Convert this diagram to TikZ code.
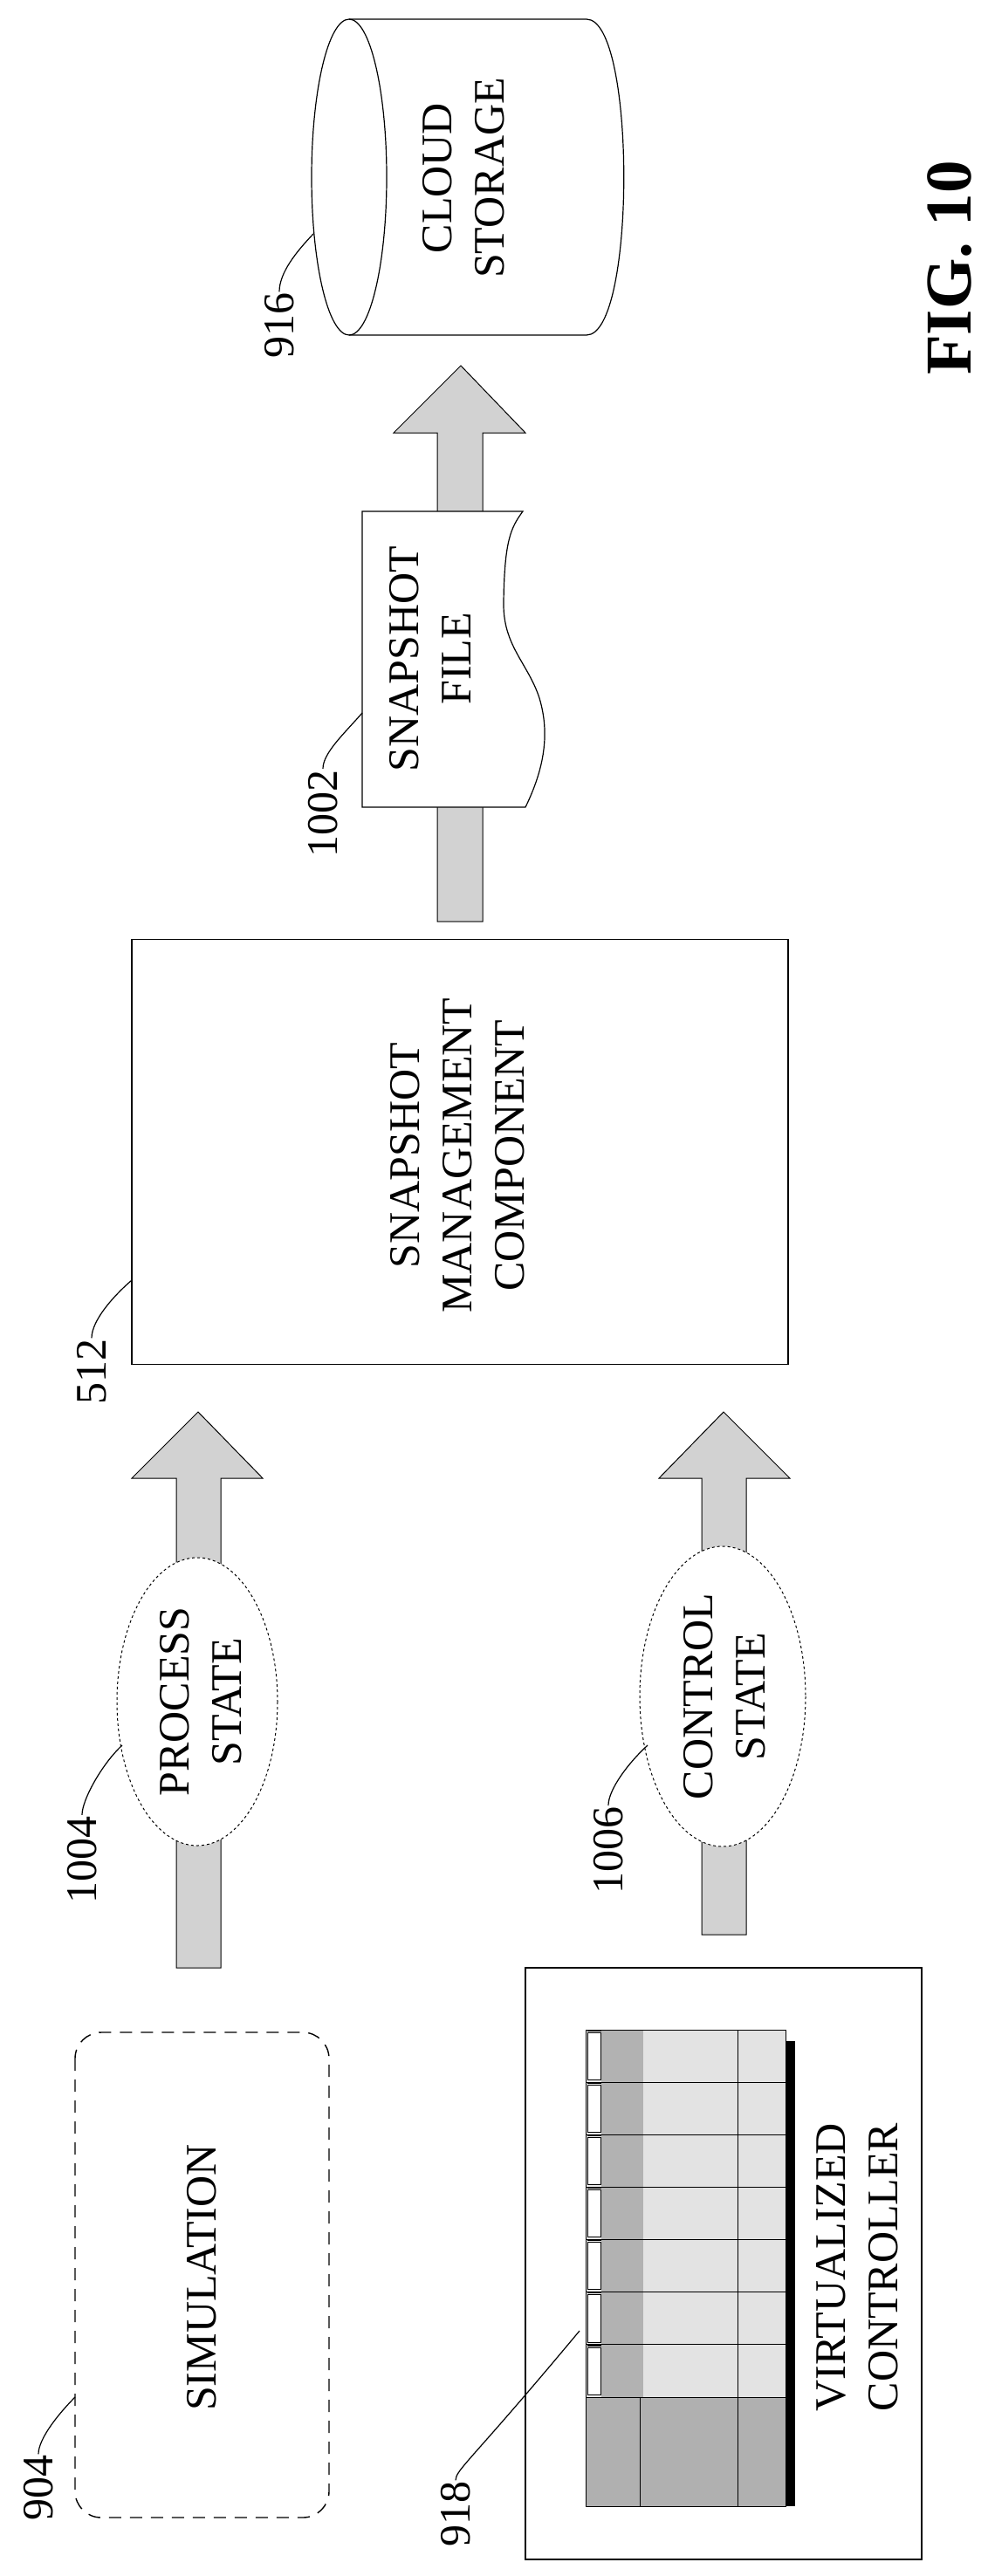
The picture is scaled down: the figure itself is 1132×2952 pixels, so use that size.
\documentclass[tikz,border=0pt]{standalone}
\usepackage{fontspec}
\setmainfont{Liberation Serif}
\begin{document}
\begin{tikzpicture}[x=1pt,y=-1pt,
  txt/.style={rotate=90,font=\fontsize{50}{60}\selectfont,align=center,inner sep=0pt},
  lbl/.style={rotate=90,font=\fontsize{50}{60}\selectfont,inner sep=1pt},
  bigarrow/.style={draw=black,line width=1pt,fill=gray!35},
  ln/.style={line width=1.2pt},
  leader/.style={line width=1.2pt}]
\useasboundingbox (0,0) rectangle (1132,2952);
% ---- Cloud storage cylinder
\draw[ln] (400,203) ellipse [x radius=43, y radius=181];
\draw[ln] (400,22) -- (672,22) .. controls (729,22) and (729,384) .. (672,384) -- (400,384);
\node[txt] (cloud) at (531,204) {CLOUD\\STORAGE};
\node[lbl] (l916) at (320,373) {916};
\coordinate (c916) at (359,268);
\draw[leader] (l916.east) .. controls +(0,-22) and (340,288) .. (c916);
% ---- FIG 10
\node[rotate=90,font=\fontsize{75}{80}\selectfont\bfseries,inner sep=0pt] (fig) at (1088,307) {FIG. 10};
% ---- arrow box -> cloud
\draw[bigarrow] (501,1056) -- (501,496) -- (451,496) -- (528,419) -- (602,496) -- (553,496) -- (553,1056) -- cycle;
% ---- snapshot file
\draw[ln,fill=white] (415,586) -- (599,586) .. controls (585,605) and (578,620) .. (577,690)
  .. controls (576,740) and (605,760) .. (618,800) .. controls (630,840) and (624,880) .. (602,925) -- (415,925) -- cycle;
\node[txt] (file) at (493,755) {SNAPSHOT\\FILE};
\node[lbl] (l1002) at (370,932) {1002};
\coordinate (c1002) at (415,817);
\draw[leader] (l1002.east) .. controls +(0,-18) and (395,840) .. (c1002);
% ---- snapshot management component
\node[draw,ln,minimum width=752,minimum height=487,inner sep=0pt] (smc) at (527,1320) {};
\node[txt] (smct) at (524,1324) {SNAPSHOT\\MANAGEMENT\\COMPONENT};
\node[lbl] (l512) at (105,1572) {512};
\coordinate (c512) at (151,1467);
\draw[leader] (l512.east) .. controls +(0,-20) and (130,1485) .. (c512);
% ---- process state
\draw[bigarrow] (202,2255) -- (202,1694) -- (151,1694) -- (227,1618) -- (301,1694) -- (253,1694) -- (253,2255) -- cycle;
\draw[dashed,line width=1pt,fill=white] (226,1950) ellipse [x radius=92, y radius=165];
\node[txt] (ps) at (230,1950) {PROCESS\\STATE};
\node[lbl] (l1004) at (94,2131) {1004};
\coordinate (c1004) at (140,2000);
\draw[leader] (l1004.east) .. controls +(0,-18) and (118,2020) .. (c1004);
% ---- control state
\draw[bigarrow] (804,2217) -- (804,1694) -- (755,1694) -- (829,1618) -- (905,1694) -- (855,1694) -- (855,2217) -- cycle;
\draw[dashed,line width=1pt,fill=white] (828,1944) ellipse [x radius=95, y radius=172];
\node[txt] (cs) at (830,1944) {CONTROL\\STATE};
\node[lbl] (l1006) at (697,2120) {1006};
\coordinate (c1006) at (742,2000);
\draw[leader] (l1006.east) .. controls +(0,-18) and (720,2020) .. (c1006);
% ---- simulation
\draw[dashed,dash pattern=on 14pt off 10pt,line width=1.4pt,rounded corners=30] (86,2329) rectangle (377,2885);
\node[txt] (sim) at (231,2610) {SIMULATION};
\node[lbl] (l904) at (44,2851) {904};
\coordinate (c904) at (86,2747);
\draw[leader] (l904.east) .. controls +(0,-18) and (68,2765) .. (c904);
% ---- virtualized controller
\node[draw,ln,minimum width=454,minimum height=678,inner sep=0pt] (vc) at (829,2594) {};
\node[txt] (vct) at (982,2598) {VIRTUALIZED\\CONTROLLER};
\fill[black] (900,2339) rectangle (911,2872);
\foreach \i in {0,...,6}{
  \pgfmathsetmacro{\ya}{2326+60.14*\i}
  \pgfmathsetmacro{\yb}{2326+60.14*(\i+1)}
  \fill[gray!15] (671,\ya) rectangle (689,\yb);
  \fill[gray!60] (689,\ya) rectangle (737,\yb);
  \fill[gray!22] (737,\ya) rectangle (900,\yb);
  \draw[line width=0.8pt] (671,\ya) rectangle (900,\yb);
  \draw[line width=0.8pt] (845,\ya) -- (845,\yb);
  \draw[line width=0.6pt,fill=white] (673,\ya+3) rectangle (688,\yb-3);
  \draw[line width=1.5pt] (673,\ya+1) -- (689,\ya+1);
}
\fill[gray!62] (671,2747) rectangle (900,2872);
\draw[line width=0.8pt] (671,2747) rectangle (900,2872);
\draw[line width=1pt] (733,2747) -- (733,2872) (845,2747) -- (845,2872);
\node[lbl] (l918) at (522,2881) {918};
\coordinate (c918) at (664,2671);
\draw[leader] (l918.east) .. controls +(0,-12) and (540,2820) .. (c918);
\end{tikzpicture}
\end{document}
